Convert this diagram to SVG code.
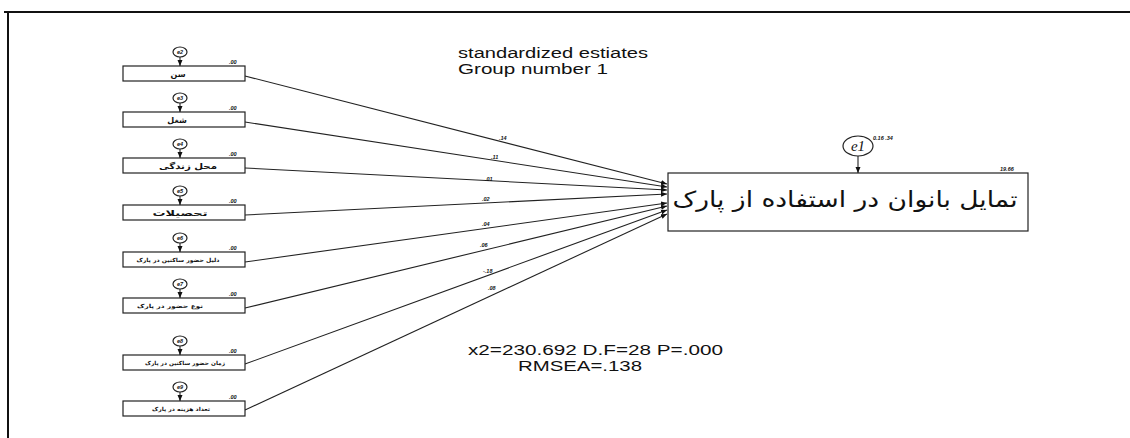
<svg xmlns="http://www.w3.org/2000/svg" width="1130" height="438" viewBox="0 0 1130 438">
<style>
.frame{stroke:#111;stroke-width:2;fill:none}
.box{fill:#fff;stroke:#222;stroke-width:1.2}
.err{fill:#fff;stroke:#222;stroke-width:1.2}
.conn{stroke:#222;stroke-width:1.1;fill:none}
.ar{font-family:"DejaVu Sans",sans-serif;font-weight:bold;fill:#111;text-anchor:middle}
.lab{font-family:"Liberation Sans",sans-serif;font-weight:bold;font-style:italic;font-size:5.5px;fill:#111}
.et{font-family:"Liberation Sans",sans-serif;font-weight:bold;font-style:italic;font-size:5.5px;fill:#111;text-anchor:middle}
.info{font-family:"Liberation Sans",Arial,sans-serif;font-size:14px;fill:#111}
</style>
<defs>
<marker id="ah" markerWidth="6" markerHeight="6" refX="6" refY="3" orient="auto" markerUnits="userSpaceOnUse">
<path d="M0,0.5 L6,3 L0,5.5 Z" fill="#111"/>
</marker>
</defs>
<path class="frame" d="M4,12 H1130 M8,12 V438"/>
<text class="info" x="458" y="58" textLength="190" lengthAdjust="spacingAndGlyphs">standardized  estiates</text>
<text class="info" x="458" y="74" textLength="150" lengthAdjust="spacingAndGlyphs">Group number  1</text>
<text class="info" x="468" y="355" textLength="255" lengthAdjust="spacingAndGlyphs">x2=230.692 D.F=28  P=.000</text>
<text class="info" x="518" y="371" textLength="124" lengthAdjust="spacingAndGlyphs">RMSEA=.138</text>
<g id="connectors">
<line class="conn" x1="245" y1="76" x2="667" y2="184" marker-end="url(#ah)"/>
<line class="conn" x1="245" y1="122" x2="667" y2="187" marker-end="url(#ah)"/>
<line class="conn" x1="245" y1="168" x2="667" y2="190" marker-end="url(#ah)"/>
<line class="conn" x1="245" y1="215" x2="667" y2="194" marker-end="url(#ah)"/>
<line class="conn" x1="245" y1="262" x2="667" y2="203" marker-end="url(#ah)"/>
<line class="conn" x1="245" y1="308" x2="667" y2="206" marker-end="url(#ah)"/>
<line class="conn" x1="245" y1="364" x2="667" y2="210" marker-end="url(#ah)"/>
<line class="conn" x1="245" y1="410" x2="667" y2="214" marker-end="url(#ah)"/>
<line class="conn" x1="858" y1="156" x2="858" y2="173" marker-end="url(#ah)"/>
<text class="lab" x="499" y="140">.14</text>
<text class="lab" x="491" y="159">.11</text>
<text class="lab" x="485" y="181">.01</text>
<text class="lab" x="482" y="201">.02</text>
<text class="lab" x="482" y="226">.04</text>
<text class="lab" x="480" y="247">.06</text>
<text class="lab" x="483" y="273">-.18</text>
<text class="lab" x="488" y="290">.08</text>
</g>
<g id="n1">
<rect class="box" x="123" y="66" width="122" height="15"/>
<ellipse class="err" cx="180" cy="52" rx="7" ry="5"/><text class="et" x="180" y="54">e2</text>
<line class="conn" x1="180" y1="57" x2="180" y2="66" marker-end="url(#ah)"/>
<text class="lab" x="229" y="64">.00</text>
<text class="ar" x="178" y="77" font-size="8">سن</text>
</g>
<g id="n2">
<rect class="box" x="123" y="112" width="122" height="15"/>
<ellipse class="err" cx="180" cy="98" rx="7" ry="5"/><text class="et" x="180" y="100">e3</text>
<line class="conn" x1="180" y1="103" x2="180" y2="112" marker-end="url(#ah)"/>
<text class="lab" x="229" y="110">.00</text>
<text class="ar" x="177" y="123" font-size="8">شغل</text>
</g>
<g id="n3">
<rect class="box" x="123" y="158" width="122" height="15"/>
<ellipse class="err" cx="180" cy="144" rx="7" ry="5"/><text class="et" x="180" y="146">e4</text>
<line class="conn" x1="180" y1="149" x2="180" y2="158" marker-end="url(#ah)"/>
<text class="lab" x="229" y="156">.00</text>
<text class="ar" x="188" y="169" font-size="8" textLength="58" lengthAdjust="spacingAndGlyphs">محل زندگی</text>
</g>
<g id="n4">
<rect class="box" x="123" y="205" width="122" height="15"/>
<ellipse class="err" cx="180" cy="191" rx="7" ry="5"/><text class="et" x="180" y="193">e5</text>
<line class="conn" x1="180" y1="196" x2="180" y2="205" marker-end="url(#ah)"/>
<text class="lab" x="229" y="203">.00</text>
<text class="ar" x="180" y="216" font-size="8" textLength="55" lengthAdjust="spacingAndGlyphs">تحصیلات</text>
</g>
<g id="n5">
<rect class="box" x="123" y="252" width="122" height="15"/>
<ellipse class="err" cx="180" cy="238" rx="7" ry="5"/><text class="et" x="180" y="240">e6</text>
<line class="conn" x1="180" y1="243" x2="180" y2="252" marker-end="url(#ah)"/>
<text class="lab" x="229" y="250">.00</text>
<text class="ar" x="178" y="262" font-size="5.5" textLength="83" lengthAdjust="spacingAndGlyphs">دلیل حضور ساکنین در پارک</text>
</g>
<g id="n6">
<rect class="box" x="123" y="298" width="122" height="15"/>
<ellipse class="err" cx="180" cy="284" rx="7" ry="5"/><text class="et" x="180" y="286">e7</text>
<line class="conn" x1="180" y1="289" x2="180" y2="298" marker-end="url(#ah)"/>
<text class="lab" x="229" y="296">.00</text>
<text class="ar" x="170" y="308" font-size="5.5" textLength="66" lengthAdjust="spacingAndGlyphs">نوع حضور در پارک</text>
</g>
<g id="n7">
<rect class="box" x="123" y="355" width="122" height="15"/>
<ellipse class="err" cx="180" cy="341" rx="7" ry="5"/><text class="et" x="180" y="343">e8</text>
<line class="conn" x1="180" y1="346" x2="180" y2="355" marker-end="url(#ah)"/>
<text class="lab" x="229" y="353">.00</text>
<text class="ar" x="185" y="365" font-size="5.5" textLength="80" lengthAdjust="spacingAndGlyphs">زمان حضور ساکنین در پارک</text>
</g>
<g id="n8">
<rect class="box" x="123" y="401" width="122" height="15"/>
<ellipse class="err" cx="180" cy="387" rx="7" ry="5"/><text class="et" x="180" y="389">e9</text>
<line class="conn" x1="180" y1="392" x2="180" y2="401" marker-end="url(#ah)"/>
<text class="lab" x="229" y="399">.00</text>
<text class="ar" x="181" y="411" font-size="5.5" textLength="58" lengthAdjust="spacingAndGlyphs">تعداد هزینه در پارک</text>
</g>
<g id="n9">
<rect class="box" x="668" y="173" width="360" height="58" stroke="#444" stroke-width="1.5"/>
<text x="845" y="207" font-family="DejaVu Sans,sans-serif" font-size="22" fill="#111" text-anchor="middle" textLength="345" lengthAdjust="spacingAndGlyphs">تمایل بانوان در استفاده از پارک</text>
<text class="lab" x="1000" y="171">19.66</text>
</g>
<g id="e1">
<ellipse class="err" cx="858" cy="146" rx="15" ry="10" stroke-width="1.3"/>
<text x="858" y="151" font-family="Liberation Serif,serif" font-style="italic" font-size="15" fill="#111" text-anchor="middle">e1</text>
<text class="lab" x="873" y="140" font-size="6">0.16  .34</text>
</g>
</svg>
